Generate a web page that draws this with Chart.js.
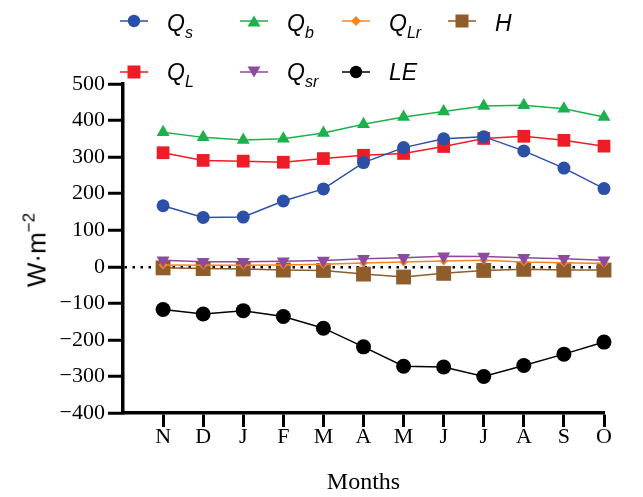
<!DOCTYPE html>
<html>
<head>
<meta charset="utf-8">
<script src="https://cdn.jsdelivr.net/npm/chart.js@4"></script>
<style>
  body { margin: 0; background: #fff; }
  #wrap { position: relative; width: 643px; height: 497px; }
  #chart { position: absolute; left: 0; top: 0; }
  .leg { position: absolute; font-family: "Liberation Sans", Arial, sans-serif; font-style: italic; font-size: 23px; line-height: 23px; color: #000; white-space: nowrap; }
  .leg sub { font-size: 16px; vertical-align: -7px; line-height: 0; }
  .legmark { position: absolute; }
  #ytitle { position: absolute; left: 37px; top: 250px; transform: translate(-50%, -50%) rotate(-90deg);
    font-family: "Liberation Sans", Arial, sans-serif; font-size: 26px; white-space: nowrap; color: #000; }
  #ytitle sup { font-size: 17px; vertical-align: 11px; line-height: 0; }
</style>
</head>
<body>
<div id="wrap">
  <canvas id="chart" width="643" height="497"></canvas>
  <div id="ytitle">W·m<sup>−2</sup></div>
</div>
<script>
const months = ['N', 'D', 'J', 'F', 'M', 'A', 'M', 'J', 'J', 'A', 'S', 'O'];

const qs  = [167, 135, 136, 180, 213, 285, 326, 350, 356, 317, 270, 214];
const qb  = [368, 354, 347, 350, 366, 390, 410, 425, 440, 442, 432, 410];
const ql  = [312, 291, 289, 286, 296, 305, 310, 329, 351, 357, 346, 330];
const qlr = [5, 4, 4, 5, 7, 10, 13, 16, 18, 13, 11, 9];
const h   = [-3, -5, -6, -9, -10, -20, -28, -18, -10, -7, -9, -9];
const qsr = [18, 14, 14, 15, 17, 22, 25, 29, 28, 25, 22, 18];
const le  = [-117, -129, -120, -136, -168, -219, -272, -274, -300, -270, -239, -206];

const yTicks = [-400, -300, -200, -100, 0, 100, 200, 300, 400, 500];

function pts(arr) {
    return arr.map((v, i) => ({ x: i + 1, y: v }));
}

function series(label, arr, color, style, radius, rotation, order) {
    return {
        label: label,
        data: pts(arr),
        borderColor: color,
        backgroundColor: color,
        borderWidth: 1.5,
        pointStyle: style,
        pointRadius: radius,
        pointRotation: rotation,
        pointBorderWidth: 0,
        pointBackgroundColor: color,
        tension: 0,
        clip: false,
        order: order
    };
}

const datasets = [
    series('Qs', qs, '#2C50A8', 'circle', 6.5, 0, 1),
    series('QL', ql, '#EE1C25', 'rect', 9, 0, 2),
    series('Qb', qb, '#1DB14B', 'triangle', 7.5, 0, 3),
    series('Qsr', qsr, '#8C4B9E', 'triangle', 7.5, 180, 4),
    series('QLr', qlr, '#F7861F', 'rectRot', 4.5, 0, 5),
    series('H', h, '#8E5D2A', 'rect', 10.5, 0, 6),
    series('LE', le, '#000000', 'circle', 7.5, 0, 0)
];

const serif = "'Liberation Serif', 'Times New Roman', serif";

new Chart(document.getElementById('chart').getContext('2d'), {
    type: 'line',
    data: { datasets: datasets },
    options: {
        responsive: false,
        animation: false,
        layout: { padding: { top: 84, right: 39, left: 0, bottom: 0 } },
        plugins: { legend: { display: false }, tooltip: { enabled: false } },
        scales: {
            x: {
                type: 'linear',
                min: 0,
                max: 12,
                afterBuildTicks: (s) => { s.ticks = months.map((m, i) => ({ value: i + 1 })); },
                afterFit: (s) => { s.height = 84; },
                ticks: {
                    autoSkip: false,
                    maxRotation: 0,
                    padding: -3,
                    color: '#000',
                    font: { family: serif, size: 22 },
                    callback: (v) => months[v - 1]
                },
                grid: { drawOnChartArea: false, color: '#000', tickLength: 14, tickWidth: 3 },
                border: { display: true, color: '#000', width: 3.5 },
                title: { display: true, text: 'Months', color: '#000', font: { family: serif, size: 24 }, padding: 0 }
            },
            y: {
                min: -400,
                max: 500,
                afterBuildTicks: (s) => { s.ticks = yTicks.map(v => ({ value: v })); },
                afterFit: (s) => { s.width = 123; },
                ticks: {
                    padding: 3,
                    color: '#000',
                    font: { family: serif, size: 22 },
                    callback: (v) => String(v).replace('-', '\u2212')
                },
                grid: {
                    drawOnChartArea: true,
                    color: (ctx) => (ctx.tick && ctx.tick.value === 0) ? '#000' : 'rgba(0,0,0,0)',
                    lineWidth: 2.5,
                    tickColor: '#000',
                    tickLength: 15,
                    tickWidth: 3
                },
                border: { display: true, color: '#000', width: 3.5, dash: [2.5, 5.5] }
            }
        }
    }
});

// legend in HTML, laid out in a grid like the original
const legendItems = [
    { html: 'Q<sub>s</sub>', ds: 0, col: 0, row: 0 },
    { html: 'Q<sub>b</sub>', ds: 2, col: 1, row: 0 },
    { html: 'Q<sub>Lr</sub>', ds: 4, col: 2, row: 0 },
    { html: 'H', ds: 5, col: 3, row: 0 },
    { html: 'Q<sub>L</sub>', ds: 1, col: 0, row: 1 },
    { html: 'Q<sub>sr</sub>', ds: 3, col: 1, row: 1 },
    { html: 'LE', ds: 6, col: 2, row: 1 }
];
const colX = [120, 240, 342, 448];
const rowMid = [21, 72];
const rowBase = [31, 80];

function markerSvg(style, rot, color) {
    const c = 'fill="' + color + '"';
    let shape = '';
    if (style === 'circle') shape = '<circle cx="14" cy="10" r="6.2" ' + c + '/>';
    else if (style === 'rect') shape = '<rect x="7.5" y="3.5" width="13" height="13" ' + c + '/>';
    else if (style === 'rectRot') shape = '<polygon points="14,5 19,10 14,15 9,10" ' + c + '/>';
    else if (style === 'triangle' && rot === 180) shape = '<polygon points="7.5,4.5 20.5,4.5 14,15.5" ' + c + '/>';
    else shape = '<polygon points="7.5,15.5 20.5,15.5 14,4.5" ' + c + '/>';
    return '<svg width="28" height="20"><line x1="0" y1="10" x2="28" y2="10" stroke="' + color + '" stroke-width="1.5"/>' + shape + '</svg>';
}

const wrap = document.getElementById('wrap');
legendItems.forEach(function (it) {
    const d = datasets[it.ds];
    const m = document.createElement('div');
    m.className = 'legmark';
    m.style.left = colX[it.col] + 'px';
    m.style.top = (rowMid[it.row] - 10) + 'px';
    m.innerHTML = markerSvg(d.pointStyle, d.pointRotation, d.borderColor);
    wrap.appendChild(m);

    const t = document.createElement('div');
    t.className = 'leg';
    t.style.left = (colX[it.col] + 47) + 'px';
    t.style.top = (rowBase[it.row] - 19.5) + 'px';
    t.innerHTML = it.html;
    wrap.appendChild(t);
});
</script>
</body>
</html>
